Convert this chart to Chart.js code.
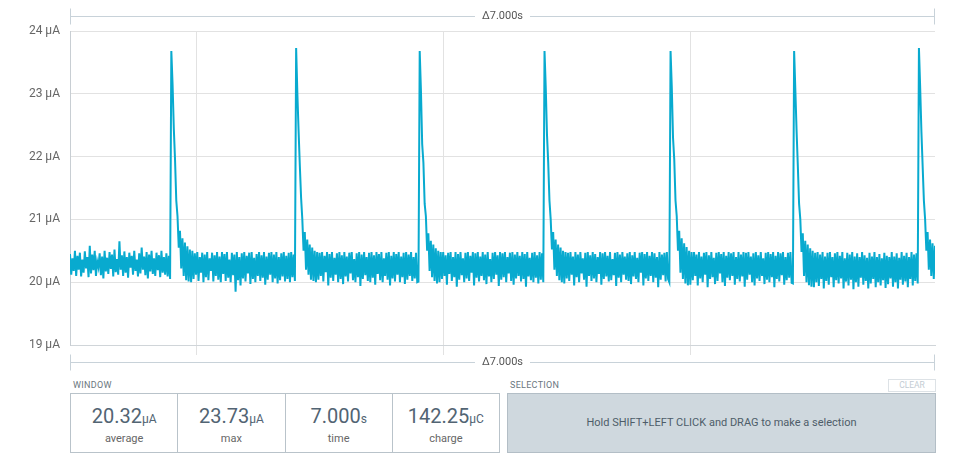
<!DOCTYPE html>
<html>
<head>
<meta charset="utf-8">
<script src="https://cdn.jsdelivr.net/npm/chart.js@4.4.1/dist/chart.umd.min.js"></script>
<style>
  body { margin: 0; background: #fff; font-family: Roboto, sans-serif; }
  #plot { position: absolute; left: 0; top: 0; width: 965px; height: 375px; }
  .caption { position: absolute; top: 380px; font-size: 9px; letter-spacing: 0.3px; color: #6b7780; }
  #stats { position: absolute; left: 70px; top: 393px; width: 428px; height: 58px;
           border: 1px solid #b9c3ca; display: flex; }
  .cell { flex: 1; border-left: 1px solid #b9c3ca; text-align: center; }
  .cell:first-child { border-left: none; }
  .val { margin-top: 11px; font-size: 20px; color: #526473; line-height: 22px; }
  .val small { font-size: 12px; }
  .name { margin-top: 2px; font-size: 11px; color: #666; }
  #selection { position: absolute; left: 507px; top: 393px; width: 427px; height: 58px;
               background: #cfd8de; border: 1px solid #b3bec6; color: #4e5d69;
               font-size: 11px; line-height: 58px; text-align: center; }
  #clear { position: absolute; left: 888px; top: 379px; width: 46px; height: 11px;
           border: 1px solid #dde2e6; color: #c3ccd3; font-size: 8.5px; line-height: 11px; text-align: center; }
</style>
</head>
<body>
<div id="plot"><canvas id="current" width="965" height="375"></canvas></div>
<div class="caption" style="left:73px">WINDOW</div>
<div id="stats"></div>
<div class="caption" style="left:510px">SELECTION</div>
<div id="clear">CLEAR</div>
<div id="selection">Hold SHIFT+LEFT CLICK and DRAG to make a selection</div>

<script>
// current samples in µA, one every 10 ms over the 7 s window
const sampleStep = 0.01;
const lead = [20.45,20.12,20.38,20.18,20.5,20.1,20.42,20.2,20.47,20.09,
  20.36,20.15,20.49,20.22,20.4,20.08,20.58,20.14,20.44,20.19,
  20.5,20.1,20.33,20.24,20.46,20.11,20.41,20.06,20.5,20.17,
  20.39,20.13,20.48,20.21,20.44,20.09,20.52,20.16,20.37,20.12,
  20.65,20.2,20.43,20.1,20.49,20.15,20.4,20.07,20.47,20.23,
  20.42,20.12,20.5,20.18,20.36,20.09,20.46,20.14,20.55,20.2,
  20.41,20.11,20.48,20.06,20.44,20.17,20.5,20.13,20.38,20.1,
  20.47,20.19,20.43,20.08,20.5,20.15,20.4,20.12,20.46,20.09,
  20.42,20.05];
const pulse1 = [23.68,23.15,22.45,21.95,21.3,21.05,20.55,20.82,20.22,20.7,20.1,20.63,20.03,20.57,20.01,20.52,20.0,20.5,
  20.05,20.46,20.12,20.48,20.02,20.4,20.15,20.47,20.0,20.44,
  20.08,20.48,20.03,20.38,20.18,20.47,20.01,20.43,20.1,20.48,
  20.04,20.41,20.0,20.48,20.13,20.45,20.02,20.48,20.07,20.36,
  20.0,20.47,20.11,20.44,19.85,20.48,20.03,20.4,19.95,20.46,
  20.06,20.48,20.01,20.42,20.14,20.47,19.97,20.48,20.05,20.39,
  20.0,20.45,20.1,20.48,20.02,20.43,20.07,20.48,19.96,20.41,
  20.04,20.47,20.12,20.48,20.0,20.44,20.06,20.48,19.98,20.4,
  20.03,20.46,20.09,20.48,20.01,20.42,20.05,20.47,20.0,20.48,
  20.08,20.44,20.02];
const pulse2 = [23.73,23.0,22.4,21.85,21.35,21.0,20.5,20.8,20.2,20.68,20.12,20.6,20.04,20.55,20.02,20.5,20.0,20.48,
  20.04,20.47,20.1,20.48,20.01,20.42,20.16,20.48,19.95,20.45,
  20.07,20.48,20.02,20.39,20.12,20.46,20.0,20.48,20.05,20.43,
  19.97,20.48,20.09,20.41,20.01,20.47,20.14,20.48,20.03,20.37,
  20.0,20.46,20.08,20.48,19.94,20.44,20.05,20.48,20.11,20.4,
  20.02,20.47,20.0,20.48,20.07,20.43,19.96,20.48,20.13,20.45,
  20.03,20.48,20.0,20.38,20.1,20.47,20.04,20.48,19.95,20.42,
  20.06,20.48,20.01,20.45,20.12,20.48,20.0,20.41,20.08,20.47,
  19.97,20.48,20.04,20.44,20.1,20.48,20.02,20.4,20.06,20.47,
  20.0,20.01];
const pulse3 = [23.68,23.05,22.2,21.9,21.25,21.05,20.5,20.78,20.18,20.66,20.08,20.6,20.02,20.54,19.98,20.5,20.0,20.48,
  20.05,20.48,20.1,20.43,19.96,20.47,20.13,20.48,20.02,20.4,
  20.08,20.48,19.93,20.45,20.04,20.48,20.11,20.38,20.0,20.47,
  20.06,20.48,20.02,20.42,20.15,20.48,19.95,20.46,20.07,20.48,
  20.01,20.41,20.1,20.48,20.03,20.44,19.97,20.48,20.09,20.37,
  20.0,20.47,20.05,20.48,20.12,20.43,19.94,20.48,20.04,20.46,
  20.08,20.48,20.0,20.4,20.14,20.47,20.02,20.48,19.96,20.44,
  20.06,20.48,20.1,20.42,20.01,20.48,20.05,20.45,19.93,20.48,
  20.09,20.39,20.03,20.47,20.0,20.48,20.07,20.43,19.98,20.48,
  20.04,20.46,20.0];
const pulse4 = [23.68,23.1,22.35,21.9,21.3,21.0,20.52,20.8,20.2,20.68,20.1,20.6,20.03,20.55,20.0,20.5,19.98,20.48,
  20.06,20.47,20.02,20.48,20.12,20.41,19.95,20.48,20.08,20.44,
  20.0,20.48,20.14,20.38,20.04,20.47,19.93,20.48,20.1,20.43,
  20.02,20.48,20.06,20.45,20.0,20.4,20.13,20.48,19.96,20.46,
  20.05,20.48,20.09,20.42,20.01,20.48,20.03,20.37,20.11,20.47,
  19.94,20.48,20.07,20.44,20.0,20.48,20.12,20.41,20.04,20.46,
  20.02,20.48,19.97,20.43,20.09,20.48,20.05,20.39,20.0,20.47,
  20.15,20.48,19.95,20.45,20.06,20.48,20.02,20.42,20.1,20.48,
  20.0,20.46,20.07,20.4,19.92,20.48,20.04,20.44,20.11,20.47,
  20.01,20.48,20.05,20.0];
const pulse5 = [23.68,23.1,22.3,21.95,21.3,21.05,20.5,20.82,20.15,20.7,20.05,20.62,19.98,20.56,19.95,20.5,19.96,20.48,
  20.03,20.48,20.1,20.44,19.95,20.48,20.06,20.41,20.0,20.47,
  20.12,20.48,19.92,20.43,20.05,20.48,20.08,20.39,19.97,20.47,
  20.02,20.48,20.14,20.45,20.0,20.48,19.94,20.42,20.07,20.48,
  20.03,20.46,20.1,20.48,19.96,20.4,20.05,20.48,20.01,20.44,
  20.09,20.48,19.93,20.47,20.04,20.48,20.12,20.41,20.0,20.46,
  19.95,20.48,20.06,20.43,20.02,20.48,20.1,20.38,19.97,20.47,
  20.04,20.48,20.0,20.45,20.08,20.48,19.92,20.42,20.05,20.48,
  20.01,20.46,20.11,20.48,19.96,20.4,20.03,20.47,20.07,20.48,
  19.99,19.98];
const pulse6 = [23.68,23.05,22.4,21.85,21.25,21.0,20.48,20.78,20.1,20.66,20.0,20.6,19.95,20.54,19.93,20.5,19.92,20.47,
  20.0,20.48,19.94,20.44,20.05,20.48,19.9,20.41,20.02,20.47,
  19.96,20.48,20.08,20.4,19.92,20.46,20.03,20.48,19.98,20.42,
  20.06,20.48,19.9,20.38,20.01,20.47,19.95,20.44,20.04,20.48,
  19.89,20.41,20.0,20.46,19.93,20.4,20.07,20.48,19.96,20.43,
  20.02,20.39,19.9,20.47,19.98,20.41,20.05,20.48,19.92,20.4,
  20.0,20.45,19.95,20.38,20.03,20.47,19.91,20.42,19.97,20.4,
  20.06,20.48,19.93,20.41,20.0,20.46,19.9,20.39,20.04,20.48,
  19.96,20.42,20.01,20.47,19.92,20.4,20.05,20.48,19.95,20.44,
  20.02,20.46,19.98];
const pulse7 = [23.73,23.1,22.4,21.85,21.3,21.0,20.5,20.8,20.2,20.68,20.1,20.62,20.05,20.58];

const current = lead.concat(pulse1, pulse2, pulse3, pulse4, pulse5, pulse6, pulse7);
const windowSeconds = 7;
const yTicks = [19, 20, 21, 22, 23, 24];
const timeGrid = [1.02, 3.02, 5.02];

const statValues = ['20.32', '23.73', '7.000', '142.25'];
const statUnits = ['µA', 'µA', 's', 'µC'];
const statNames = ['average', 'max', 'time', 'charge'];

document.getElementById('stats').innerHTML = statValues.map((v, i) =>
  '<div class="cell"><div class="val">' + v + '<small>' + statUnits[i] + '</small></div>' +
  '<div class="name">' + statNames[i] + '</div></div>').join('');

const deltaBars = {
  id: 'deltaBars',
  afterDraw(chart) {
    const ctx = chart.ctx;
    const a = chart.chartArea;
    const label = '\u0394' + windowSeconds.toFixed(3) + 's';
    const mid = (a.left + a.right) / 2;
    ctx.save();
    ctx.font = '11px Roboto';
    const gap = ctx.measureText(label).width / 2 + 7;
    [16.5, 362.5].forEach(y => {
      ctx.strokeStyle = '#c8d2d9';
      ctx.lineWidth = 1;
      ctx.beginPath();
      ctx.moveTo(a.left, y); ctx.lineTo(mid - gap, y);
      ctx.moveTo(mid + gap, y); ctx.lineTo(a.right, y);
      ctx.moveTo(a.left + 0.5, y - 8); ctx.lineTo(a.left + 0.5, y + 8);
      ctx.moveTo(a.right - 0.5, y - 8); ctx.lineTo(a.right - 0.5, y + 8);
      ctx.stroke();
      ctx.fillStyle = '#555';
      ctx.textAlign = 'center';
      ctx.textBaseline = 'middle';
      ctx.fillText(label, mid, y);
    });
    ctx.restore();
  }
};

new Chart(document.getElementById('current'), {
  type: 'line',
  data: {
    datasets: [{
      data: current.map((v, i) => ({ x: i * sampleStep, y: v })),
      borderColor: '#08aacf',
      borderWidth: 2,
      pointRadius: 0,
      tension: 0
    }]
  },
  options: {
    responsive: false,
    animation: false,
    events: [],
    layout: { padding: { top: 31, right: 30, left: 0, bottom: 0 } },
    plugins: { legend: { display: false }, tooltip: { enabled: false } },
    scales: {
      x: {
        type: 'linear',
        min: 0,
        max: windowSeconds,
        afterBuildTicks: s => { s.ticks = timeGrid.map(v => ({ value: v })); },
        afterFit: s => { s.height = 30; },
        ticks: { display: false },
        grid: { color: '#e2e2e2', tickLength: 10 },
        border: { color: '#d0d5d9' }
      },
      y: {
        min: 19,
        max: 24,
        afterBuildTicks: s => { s.ticks = yTicks.map(v => ({ value: v })); },
        afterFit: s => { s.width = 70; },
        ticks: {
          padding: 10,
          color: '#666',
          font: { family: 'Roboto', size: 12 },
          callback: v => v + ' µA'
        },
        grid: { color: '#e2e2e2', drawTicks: false },
        border: { color: '#c8ced3' }
      }
    }
  },
  plugins: [deltaBars]
});
</script>
</body>
</html>
